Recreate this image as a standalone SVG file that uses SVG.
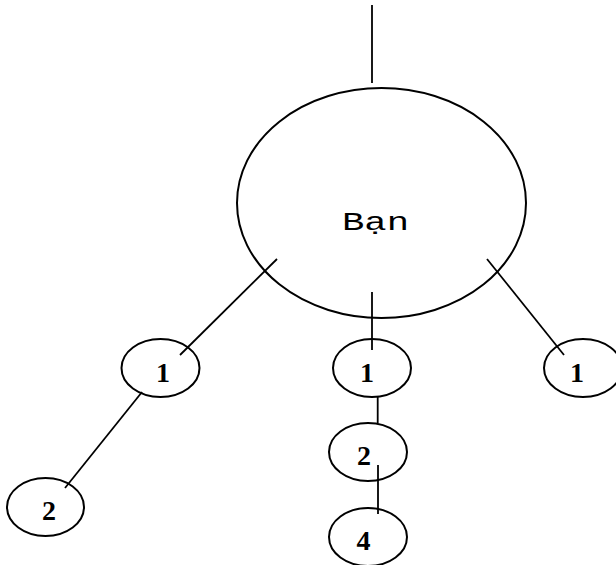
<svg xmlns="http://www.w3.org/2000/svg" width="616" height="565" viewBox="0 0 616 565">
<style>
.n{fill:none;stroke:#000;stroke-width:2}
.c line{stroke:#000;stroke-width:1.8}
.lbl{font-family:"Liberation Serif","Times New Roman",serif;font-weight:bold;font-size:28px;fill:#000;text-anchor:middle}
.big{font-family:"Liberation Mono","Courier New",monospace;font-size:26px;fill:#000}
</style>
<rect width="616" height="565" fill="#fff"/>
<g id="connectors" class="c">
<line x1="372" y1="5" x2="372" y2="83"/>
<line x1="277" y1="259" x2="180" y2="355"/>
<line x1="372" y1="292" x2="372" y2="350"/>
<line x1="487" y1="259" x2="564" y2="355"/>
<line x1="142" y1="392" x2="65" y2="488"/>
<line x1="377.7" y1="397" x2="377.7" y2="423"/>
<line x1="378" y1="465" x2="378" y2="514"/>
</g>
<g id="ban">
<ellipse class="n" cx="381.5" cy="203" rx="144.5" ry="115"/>
<text class="big" x="342" y="229.5" textLength="67" lengthAdjust="spacingAndGlyphs">Bạn</text>
</g>
<g id="left1">
<ellipse class="n" cx="160.5" cy="368" rx="39" ry="29"/>
<text class="lbl" x="163" y="382">1</text>
</g>
<g id="mid1">
<ellipse class="n" cx="372" cy="368" rx="39" ry="29"/>
<text class="lbl" x="367" y="382">1</text>
</g>
<g id="right1">
<ellipse class="n" cx="583" cy="368" rx="39" ry="29"/>
<text class="lbl" x="577" y="382">1</text>
</g>
<g id="left2">
<ellipse class="n" cx="45.5" cy="507" rx="38.5" ry="29"/>
<text class="lbl" x="49" y="520">2</text>
</g>
<g id="mid2">
<ellipse class="n" cx="368" cy="452" rx="39" ry="29"/>
<text class="lbl" x="364" y="465">2</text>
</g>
<g id="mid4">
<ellipse class="n" cx="368" cy="537" rx="39" ry="29"/>
<text class="lbl" x="363.5" y="550">4</text>
</g>
</svg>
